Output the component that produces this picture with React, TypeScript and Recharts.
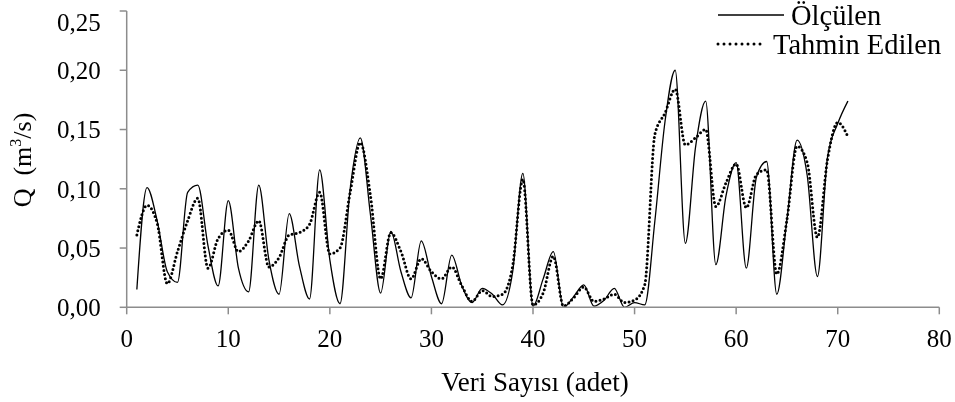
import React from 'react';
import { LineChart, Line, XAxis, YAxis } from 'recharts';

// Ölçülen (measured) discharge, m3/s, one value per sample 1..71
const olculen = [
  0.015, 0.101, 0.073, 0.030, 0.021, 0.097, 0.103, 0.052, 0.018, 0.090,
  0.033, 0.013, 0.103, 0.040, 0.011, 0.079, 0.035, 0.007, 0.116, 0.040,
  0.003, 0.100, 0.143, 0.078, 0.012, 0.064, 0.030, 0.008, 0.056, 0.026,
  0.003, 0.044, 0.018, 0.004, 0.016, 0.011, 0.002, 0.030, 0.113, 0.001,
  0.024, 0.047, 0.000, 0.009, 0.019, 0.001, 0.006, 0.016, 0.000, 0.004,
  0.002, 0.073, 0.157, 0.200, 0.054, 0.135, 0.174, 0.036, 0.094, 0.122,
  0.033, 0.110, 0.123, 0.011, 0.074, 0.141, 0.111, 0.026, 0.127, 0.155,
  0.174,
];

// Tahmin Edilen (predicted)
const tahmin = [
  0.061, 0.086, 0.071, 0.020, 0.047, 0.073, 0.092, 0.033, 0.058, 0.065,
  0.047, 0.056, 0.073, 0.034, 0.042, 0.061, 0.063, 0.070, 0.097, 0.045,
  0.050, 0.097, 0.139, 0.094, 0.024, 0.063, 0.047, 0.024, 0.041, 0.030,
  0.024, 0.034, 0.018, 0.005, 0.014, 0.009, 0.011, 0.035, 0.108, 0.002,
  0.012, 0.043, 0.001, 0.008, 0.017, 0.005, 0.007, 0.011, 0.004, 0.006,
  0.019, 0.146, 0.164, 0.184, 0.137, 0.143, 0.150, 0.085, 0.105, 0.121,
  0.084, 0.112, 0.116, 0.028, 0.074, 0.136, 0.122, 0.059, 0.125, 0.156,
  0.144,
];

const xTicks = [0, 10, 20, 30, 40, 50, 60, 70, 80];
const yTicks = [0, 0.05, 0.1, 0.15, 0.2, 0.25];

const data = olculen.map((v, i) => ({ x: i + 1, olculen: v, tahmin: tahmin[i] }));

const FONT = 'Liberation Serif';
const AXIS = '#8c8c8c';
const txt = { fontFamily: FONT };

const fmtY = (v: number) => v.toFixed(2).replace('.', ',');

export default function App() {
  // fixed so the page never grows a scrollbar that would hide the right edge
  return (
    <div
      style={{ position: 'fixed', left: 8, top: 8, width: 947, height: 394, fontFamily: FONT }}
    >
      <LineChart
        width={947}
        height={394}
        data={data}
        margin={{ top: 3, right: 15.7, bottom: 54.7, left: 0 }}
        style={txt}
      >
        <XAxis
          dataKey="x"
          type="number"
          domain={[0, 80]}
          ticks={xTicks}
          height={40}
          tickSize={7}
          tickMargin={15}
          axisLine={{ stroke: AXIS, strokeWidth: 1.5 }}
          tickLine={{ stroke: AXIS, strokeWidth: 1.5 }}
          tick={{ fill: '#000', fontSize: 25, fontFamily: FONT, style: txt }}
        />
        <YAxis
          type="number"
          domain={[0, 0.25]}
          ticks={yTicks}
          width={118.7}
          tickSize={7}
          tickMargin={19}
          tickFormatter={fmtY}
          axisLine={{ stroke: AXIS, strokeWidth: 1.5 }}
          tickLine={{ stroke: AXIS, strokeWidth: 1.5 }}
          tick={{ fill: '#000', fontSize: 25, fontFamily: FONT, style: txt }}
        />
        <Line
          type="monotone"
          dataKey="olculen"
          stroke="#000"
          strokeWidth={1.3}
          dot={false}
          isAnimationActive={false}
        />
        <Line
          type="monotone"
          dataKey="tahmin"
          stroke="#000"
          strokeWidth={3}
          strokeDasharray="0 4.2"
          strokeLinecap="round"
          dot={false}
          isAnimationActive={false}
        />
      </LineChart>
      <svg
        width={947}
        height={394}
        style={{ position: 'absolute', left: 0, top: 0, pointerEvents: 'none', overflow: 'visible' }}
      >
        <text x={527} y={383} textAnchor="middle" fontSize={27} style={txt} fill="#000">
          Veri Sayısı (adet)
        </text>
        <text
          transform="translate(23,152) rotate(-90)"
          textAnchor="middle"
          fontSize={26}
          style={txt}
          fill="#000"
        >
          Q{'\u00a0\u00a0'}(m<tspan fontSize={16} dy={-10}>3</tspan>
          <tspan dy={10}>/s)</tspan>
        </text>
        <line x1={710} y1={7} x2={776} y2={7} stroke="#000" strokeWidth={1.3} />
        <text x={783} y={17} fontSize={28.5} style={txt} fill="#000">
          Ölçülen
        </text>
        <line
          x1={710}
          y1={36}
          x2={758}
          y2={36}
          stroke="#000"
          strokeWidth={3}
          strokeDasharray="0 6"
          strokeLinecap="round"
        />
        <text x={765} y={46} fontSize={28.5} style={txt} fill="#000">
          Tahmin Edilen
        </text>
      </svg>
    </div>
  );
}
